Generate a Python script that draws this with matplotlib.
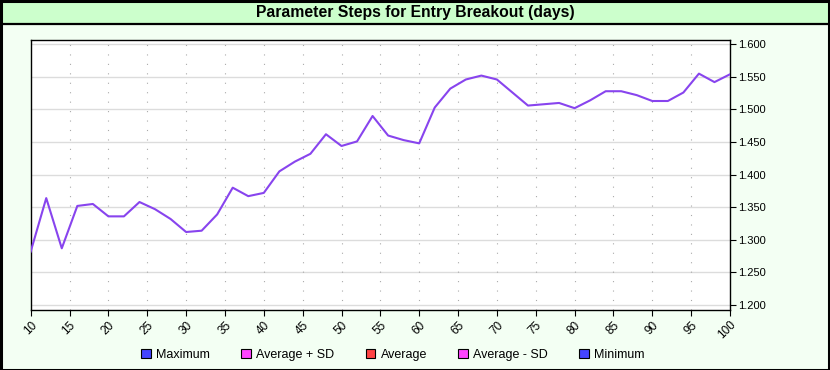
import numpy as np
import matplotlib
matplotlib.use("Agg")
import matplotlib.pyplot as plt
from matplotlib.patches import Patch, Rectangle
from matplotlib.lines import Line2D

plt.rcParams['font.family'] = ['Liberation Sans', 'DejaVu Sans']

# parameter steps (days) and the result at each step
days = list(range(10, 101, 2))
values = [1.282, 1.364, 1.287, 1.352, 1.355, 1.336, 1.336, 1.358, 1.347, 1.332,
          1.312, 1.314, 1.339, 1.380, 1.367, 1.372, 1.405, 1.420, 1.432, 1.462,
          1.444, 1.451, 1.490, 1.460, 1.453, 1.448, 1.503, 1.532, 1.546, 1.552,
          1.546, 1.526, 1.506, 1.508, 1.510, 1.502, 1.514, 1.528, 1.528, 1.522,
          1.513, 1.513, 1.526, 1.555, 1.542, 1.554]

x_ticks = list(range(10, 101, 5))
y_ticks = [1.20, 1.25, 1.30, 1.35, 1.40, 1.45, 1.50, 1.55, 1.60]

legend_names = ["Maximum", "Average + SD", "Average", "Average - SD", "Minimum"]
legend_colors = ["#4444ff", "#ff44ff", "#ff4444", "#ff44ff", "#4444ff"]

W, H = 830, 370
fig = plt.figure(figsize=(W / 100, H / 100), dpi=100)
fig.patch.set_facecolor("#f3fff3")

# title band
fig.patches.append(Rectangle((0, 1 - 24 / H), 1, 24 / H, transform=fig.transFigure,
                             facecolor="#ccffcc", edgecolor="none", zorder=0))
fig.lines.append(Line2D([0, 1], [1 - 24 / H, 1 - 24 / H], transform=fig.transFigure,
                        color="black", lw=1.6))
fig.patches.append(Rectangle((0.5 / W, 0.5 / H), 1 - 1.5 / W, 1 - 1.5 / H,
                             transform=fig.transFigure, facecolor="none",
                             edgecolor="black", lw=2.2, zorder=5))
fig.text(415 / W, 1 - 13 / H, "Parameter Steps for Entry Breakout (days)",
         ha="center", va="center", fontsize=11.3, fontweight="bold")

left, right, top, bottom = 30.7, 730, 40.3, 310
ax = fig.add_axes([left / W, (H - bottom) / H, (right - left) / W, (bottom - top) / H])
ax.set_facecolor("white")

ax.plot(days, values, color="#8844ee", lw=1.5, zorder=3)

ax.set_xlim(10, 100)
ax.set_ylim(1.2 - 5 / 652, 1.6 + 4 / 652)
ax.set_xticks(x_ticks)
ax.set_yticks(y_ticks)
ax.set_yticklabels(["%.3f" % v for v in y_ticks])
ax.set_xticklabels([str(v) for v in x_ticks], rotation=45, ha="right", va="top",
                   rotation_mode="anchor")

ax.yaxis.tick_right()
ax.tick_params(axis="y", which="both", direction="out", length=4, width=0.8,
               pad=1.5, labelsize=8, left=False, right=True)
ax.tick_params(axis="x", direction="out", length=4, width=0.8, pad=2.5, labelsize=8.5)

for y in y_ticks:
    ax.axhline(y, color="#dcdcdc", lw=1.0, zorder=1)
for x in x_ticks[1:-1]:
    ax.axvline(x, color="#aaaaaa", lw=0.8, linestyle=(0, (1, 7.5)), zorder=1)

for s in ax.spines.values():
    s.set_color("black")
    s.set_linewidth(1.0)

handles = [Patch(facecolor=c, edgecolor="black", lw=0.8) for c in legend_colors]
fig.legend(handles, legend_names, loc="center", bbox_to_anchor=(393 / W, 1 - 355 / H),
           ncol=5, frameon=False, fontsize=9, handlelength=0.75, handleheight=0.75,
           handletextpad=0.45, columnspacing=2.5)

fig.savefig("out.png", dpi=100, facecolor=fig.get_facecolor())
